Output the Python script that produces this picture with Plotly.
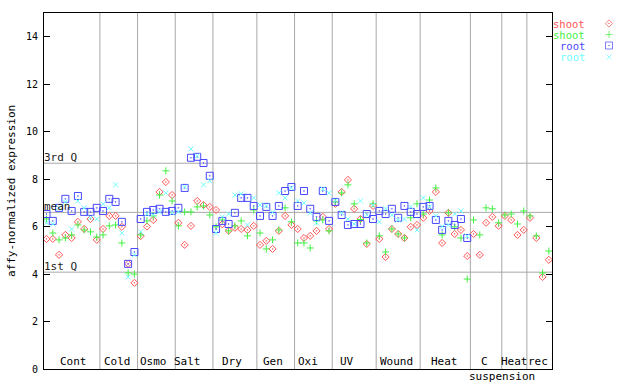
import plotly.graph_objects as go
import numpy as np

# ---- data ----
group_names = ["Cont", "Cold", "Osmo", "Salt", "Dry", "Gen", "Oxi", "UV",
               "Wound", "Heat", "C", "Heat", "rec"]
group_sizes = [9, 6, 6, 6, 7, 6, 6, 7, 7, 8, 5, 4, 4]
label_pos = [4.3, 11.3, 17.0, 22.5, 29.6, 36.0, 41.6, 47.9, 55.7, 63.3, 69.7, 74.5, 78.3]
sub_label = "suspension"
sub_label_pos = 72.5

shoot_a = [5.48, 5.48, 4.81, 5.65, 5.52, 6.20, 5.90, 6.32, 5.44,
           5.90, 6.45, 6.45, 5.99, 4.43, 3.63,
           5.60, 6.00, 6.28, 7.46, 7.88, 7.33,
           6.16, 5.23, 6.03, 7.08, 6.91, 6.83,
           6.70, 6.10, 5.83, 5.95, 5.90, 5.86, 6.03,
           5.23, 5.40, 5.06, 5.82, 6.45, 6.07,
           5.90, 5.52, 5.61, 5.82, 6.41, 5.90,
           6.96, 7.46, 7.97, 6.75, 6.32, 5.27, 6.87,
           5.48, 4.72, 5.90, 5.69, 5.52, 5.99, 6.07,
           6.37, 6.66, 7.46, 5.31, 6.58, 5.69, 5.86, 4.76,
           5.69, 4.81, 6.16, 6.41, 6.03,
           6.45, 6.28, 5.65, 5.86,
           6.37, 5.52, 3.88, 4.60]
shoot_b = [6.32, 5.73, 5.44, 5.52, 5.65, 6.07, 5.86, 5.78, 5.56,
           5.65, 6.03, 6.07, 5.31, 4.05, 4.00,
           5.65, 6.24, 6.45, 7.33, 8.35, 7.08,
           6.03, 6.62, 6.62, 6.83, 6.87, 6.49,
           5.99, 6.28, 5.82, 6.03, 6.24, 5.61, 6.70,
           5.73, 5.06, 5.44, 5.86, 6.79, 6.20,
           5.31, 5.31, 5.10, 6.24, 6.28, 5.82,
           7.04, 7.42, 7.76, 6.96, 6.30, 5.31, 6.96,
           5.61, 4.93, 5.90, 5.69, 5.52, 6.37, 6.96,
           6.53, 7.12, 7.63, 5.65, 6.58, 5.99, 5.52, 3.79,
           6.28, 5.65, 6.79, 6.75, 6.16,
           6.49, 6.53, 6.11, 6.66,
           6.45, 5.61, 4.05, 4.97]
root_a = [6.53, 6.24, 6.79, 7.17, 6.66, 7.29, 6.62, 6.62, 6.79,
          6.66, 7.17, 7.04, 6.20, 4.43, 4.93,
          6.32, 6.62, 6.70, 6.75, 6.62, 6.66,
          6.79, 7.63, 8.90, 8.94, 8.68, 8.14,
          5.90, 6.24, 6.11, 6.58, 7.21, 7.21, 6.87,
          6.45, 6.83, 6.45, 6.87, 7.50, 7.67,
          6.87, 7.50, 6.75, 6.41, 7.50, 6.24,
          7.04, 6.49, 6.07, 6.11, 6.11, 6.53, 6.32,
          6.66, 6.53, 6.75, 6.37, 6.87, 6.62, 6.53,
          6.83, 6.87, 6.28, 5.86, 6.24, 6.07, 6.32, 5.52,
          None, None, None, None, None,
          None, None, None, None,
          None, None, None, None]
root_b = [6.16, 6.11, 6.79, 7.04, 5.90, 7.08, 6.79, 6.37, 6.32,
          6.96, 6.79, 7.76, 5.73, 3.88, 4.81,
          5.78, 6.53, 6.49, 6.62, 7.42, 6.58,
          6.62, 7.67, 9.27, 8.98, 7.76, 7.93,
          5.73, 6.41, 6.53, 7.33, 7.38, 6.07, 7.21,
          6.91, 6.87, 6.60, 7.42, 7.21, 7.63,
          7.08, 7.00, 6.58, 6.16, 7.59, 7.42,
          7.08, 6.58, 6.32, 6.11, 7.08, 6.50, 6.91,
          6.20, 6.75, 6.49, 6.28, 6.32, 6.83, 5.86,
          7.21, 6.83, 6.45, 6.00, 6.07, 6.53, 6.66, 5.60,
          None, None, None, None, None,
          None, None, None, None,
          None, None, None, None]

quart_values = [8.67, 6.60, 4.08]
quart_labels = ["3rd Q", "mean", "1st Q"]

series_names = ["shoot", "shoot", "root", "root"]
series_colors = ["#ff5555", "#44f044", "#4848ff", "#70ffff"]
series_symbols = ["diamond-open-dot", "cross-thin-open", "square-open-dot", "x-thin-open"]
series_sizes = [5.5, 5, 7, 5]

FONT = "DejaVu Sans Mono"
W, H = 640, 384
PL, PR, PT, PB = 44, 552, 13, 369   # plot box in pixels

n = sum(group_sizes)
xs = list(range(n))
bounds = (np.cumsum(group_sizes)[:-1] - 0.5).tolist()

fig = go.Figure()
for vals, name, col, sym, sz in zip([shoot_a, shoot_b, root_a, root_b], series_names,
                                    series_colors, series_symbols, series_sizes):
    fig.add_trace(go.Scatter(x=xs, y=vals, mode="markers", name=name, showlegend=False,
                             marker=dict(symbol=sym, size=sz, color=col,
                                         line=dict(width=1, color=col))))

# legend keys on a full-figure pixel axis pair
key_y = [23.5, 34.5, 45.5, 57]
fig.add_trace(go.Scatter(x=[609] * 4, y=key_y, mode="markers", xaxis="x2", yaxis="y2",
                         showlegend=False, hoverinfo="skip",
                         marker=dict(symbol=series_symbols, size=series_sizes,
                                     color=series_colors,
                                     line=dict(width=1, color=series_colors))))

shapes = []
for b in bounds:
    shapes.append(dict(type="line", xref="x", yref="y domain", x0=b, x1=b, y0=0, y1=1,
                       line=dict(color="#a8a8a8", width=1), layer="below"))
for q in quart_values:
    shapes.append(dict(type="line", xref="x domain", yref="y", x0=0, x1=1, y0=q, y1=q,
                       line=dict(color="#a8a8a8", width=1), layer="below"))

ann = []
for name, pos in zip(group_names, label_pos):
    ann.append(dict(x=pos, y=PB, xref="x", yref="y2", text=name, showarrow=False,
                    xanchor="center", yanchor="bottom", yshift=-1,
                    font=dict(family=FONT, size=11, color="black")))
ann.append(dict(x=sub_label_pos, y=PB, xref="x", yref="y2", text=sub_label, showarrow=False,
                xanchor="center", yanchor="top", yshift=1,
                font=dict(family=FONT, size=11, color="black")))
for q, lab in zip(quart_values, quart_labels):
    ann.append(dict(x=PL, y=q, xref="x2", yref="y", text=lab, showarrow=False,
                    xanchor="left", yanchor="bottom", xshift=-2, yshift=-3,
                    font=dict(family=FONT, size=11, color="#222222")))
for yk, name, col in zip(key_y, series_names, series_colors):
    ann.append(dict(x=586, y=yk, xref="x2", yref="y2", text=name, showarrow=False,
                    xanchor="right", yanchor="middle", height=10, borderpad=0,
                    font=dict(family=FONT, size=10.5, color=col)))
ann.append(dict(x=11, y=(PT + PB) / 2, xref="x2", yref="y2", text="affy-normalized expression",
                textangle=-90, showarrow=False, xanchor="center", yanchor="middle",
                font=dict(family=FONT, size=11, color="black")))

fig.update_layout(
    width=W, height=H, autosize=False,
    margin=dict(l=0, r=0, t=0, b=0, pad=0, autoexpand=False),
    plot_bgcolor="rgba(0,0,0,0)", paper_bgcolor="white",
    showlegend=False,
    shapes=shapes, annotations=ann,
    xaxis=dict(domain=[PL / W, PR / W], range=[-0.4, 80.5], showticklabels=False, ticks="",
               showgrid=False, zeroline=False, showline=True, linecolor="black",
               linewidth=1, mirror=True, anchor="y", automargin=False),
    yaxis=dict(domain=[(H - PB) / H, (H - PT) / H], range=[0, 15], tick0=0, dtick=2,
               ticks="inside", ticklen=6, tickcolor="black",
               showgrid=False, zeroline=False, showline=True, linecolor="black", linewidth=1,
               mirror="ticks", ticklabelstandoff=3, anchor="x", automargin=False,
               tickfont=dict(family=FONT, size=10, color="black")),
    xaxis2=dict(domain=[0, 1], range=[0, W], visible=False, anchor="y2", fixedrange=True,
                automargin=False, showticklabels=False),
    yaxis2=dict(domain=[0, 1], range=[H, 0], visible=False, anchor="x2", fixedrange=True,
                automargin=False, showticklabels=False),
)

fig.write_html("out.html", config={"displayModeBar": False},
               post_script="document.body.style.margin='0px';document.body.style.overflow='hidden';")
